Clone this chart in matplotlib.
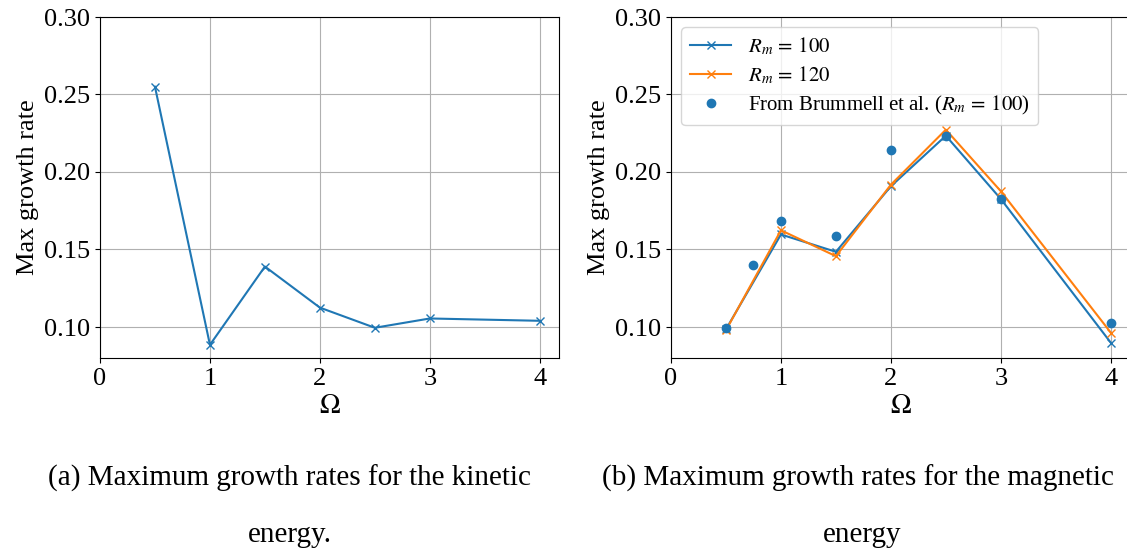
import matplotlib
matplotlib.use("Agg")
import matplotlib.pyplot as plt

plt.rcParams['font.family'] = ['Liberation Serif', 'DejaVu Serif']
plt.rcParams['mathtext.fontset'] = 'stix'

# kinetic energy growth rates
omega_kin = [0.5, 1.0, 1.5, 2.0, 2.5, 3.0, 4.0]
rate_kin = [0.255, 0.0885, 0.139, 0.1125, 0.0995, 0.1055, 0.104]

# magnetic energy growth rates
omega_mag = [0.5, 1.0, 1.5, 2.0, 2.5, 3.0, 4.0]
rate_rm100 = [0.0985, 0.1597, 0.1485, 0.1908, 0.2234, 0.1826, 0.0899]
rate_rm120 = [0.0979, 0.1624, 0.1457, 0.1918, 0.2273, 0.1876, 0.0964]

# reference values from Brummell et al.
omega_brum = [0.5, 0.75, 1.0, 1.5, 2.0, 2.5, 3.0, 4.0]
rate_brum = [0.0991, 0.1397, 0.1687, 0.1588, 0.2140, 0.2230, 0.1826, 0.1024]

W, H = 1127, 552
fig = plt.figure(figsize=(W / 100, H / 100), dpi=100)

def make_axes(x0, x1, y0=17, y1=358):
    return fig.add_axes([x0 / W, 1 - y1 / H, (x1 - x0) / W, (y1 - y0) / H])

ax1 = make_axes(100, 559)
ax2 = make_axes(671, 1130)

ax1.plot(omega_kin, rate_kin, marker='x', color='tab:blue')

ax2.plot(omega_mag, rate_rm100, marker='x', color='tab:blue', label=r'$R_m \,=\, 100$')
ax2.plot(omega_mag, rate_rm120, marker='x', color='tab:orange', label=r'$R_m \,=\, 120$')
ax2.plot(omega_brum, rate_brum, 'o', color='tab:blue', markersize=6,
         label=r'From Brummell et al. ($R_m \,=\, 100$)')
ax2.legend(loc='upper left', fontsize=15, labelspacing=0.35)

for ax in (ax1, ax2):
    ax.set_xlim(0, 4.175)
    ax.set_ylim(0.08, 0.30)
    ax.set_yticks([0.10, 0.15, 0.20, 0.25, 0.30])
    ax.set_xticks([0, 1, 2, 3, 4])
    ax.tick_params(labelsize=19)
    ax.grid(True)
    ax.set_xlabel(r'$\Omega$', fontsize=20, labelpad=3)
    ax.set_ylabel('Max growth rate', fontsize=19)

fig.text(289 / W, 1 - 478 / H, '(a) Maximum growth rates for the kinetic',
         ha='center', va='center', fontsize=21)
fig.text(290 / W, 1 - 535 / H, 'energy.', ha='center', va='center', fontsize=21)
fig.text(858 / W, 1 - 478 / H, '(b) Maximum growth rates for the magnetic',
         ha='center', va='center', fontsize=21)
fig.text(862 / W, 1 - 535 / H, 'energy', ha='center', va='center', fontsize=21)

fig.savefig('out.png', dpi=100)
